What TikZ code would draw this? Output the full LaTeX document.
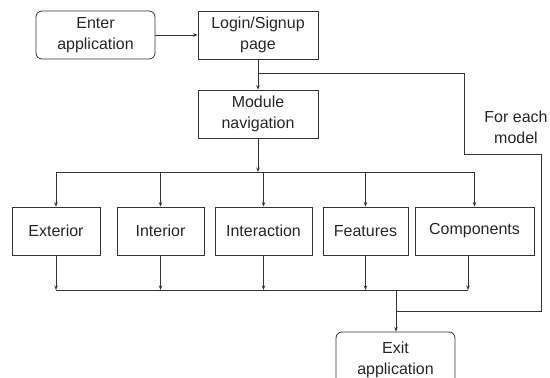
\documentclass[tikz,border=0pt]{standalone}
\usepackage{fontspec}
\setmainfont{Liberation Sans}
\usetikzlibrary{arrows.meta}
\begin{document}
\begin{tikzpicture}[x=1pt,y=-1pt,
  box/.style={draw=black!80,line width=0.8pt,minimum height=48pt,inner sep=0pt,align=center,
    font=\fontsize{16}{21}\selectfont,text=black!85},
  rbox/.style={box,rounded corners=6pt},
  conn/.style={draw=black!80,line width=0.8pt},
  arr/.style={conn,-{Stealth[length=4.5pt,width=3.5pt]}}]
\useasboundingbox (0,0) rectangle (550,378);
\clip (0,0) rectangle (550,378);
\node[rbox,minimum width=119pt] (enter) at (95.5,35) {Enter\\application};
\node[box,minimum width=120pt] (login) at (258,35) {Login/Signup\\page};
\node[box,minimum width=120pt] (module) at (258,114) {Module\\navigation};
\node[box,minimum width=88pt] (ext) at (56,231) {Exterior};
\node[box,minimum width=87pt] (int) at (160.5,231) {Interior};
\node[box,minimum width=97pt] (inter) at (263.5,231) {Interaction};
\node[box,minimum width=85pt] (feat) at (365.5,231) {Features};
\node[box,minimum width=119pt] (comp) at (474.5,231) {Components};
\node[rbox,minimum width=119pt,minimum height=56pt] (exit) at (395.5,360) {Exit\\application};
\node[align=center,font=\fontsize{16}{21}\selectfont,text=black!85,inner sep=0pt] (fe) at (516,127) {For each\\model};
% coordinates
\coordinate (j1) at (258,73);
\coordinate (l1) at (464,73);
\coordinate (l2) at (464,154);
\coordinate (l3) at (541,154);
\coordinate (l4) at (541,311);
\coordinate (j2) at (396,311);
\coordinate (tb) at (258,172);
\coordinate (tbl) at (56,172);
\coordinate (tbr) at (474.5,172);
\coordinate (bbl) at (56,290);
\coordinate (bbr) at (468,290);
\coordinate (bj) at (396,290);
% connectors
\draw[arr] (enter.east) -- (login.west);
\draw[arr] (login.south) -- (module.north);
\draw[conn] (j1) -- (l1) -- (l2) -- (l3) -- (l4) -- (j2);
\draw[arr] (module.south) -- (tb);
\draw[conn] (tbl) -- (tbr);
\draw[arr] (tbl) -- (ext.north);
\draw[arr] (tbl -| int.north) -- (int.north);
\draw[arr] (tbl -| inter.north) -- (inter.north);
\draw[arr] (tbl -| feat.north) -- (feat.north);
\draw[arr] (tbr) -- (comp.north);
\draw[conn] (bbl) -- (bbr);
\draw[arr] (ext.south) -- (bbl);
\draw[arr] (int.south) -- (int.south |- bbl);
\draw[arr] (inter.south) -- (inter.south |- bbl);
\draw[arr] (feat.south) -- (feat.south |- bbl);
\draw[arr] (bbr |- comp.south) -- (bbr);
\draw[arr] (bj) -- (bj |- exit.north);
\end{tikzpicture}
\end{document}
